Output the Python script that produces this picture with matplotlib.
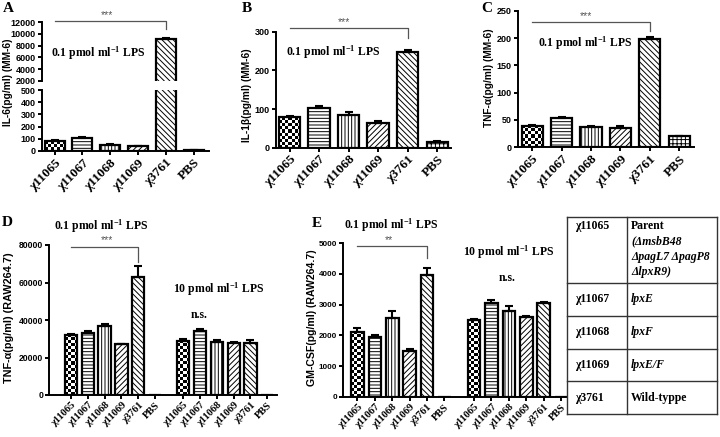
import numpy as np
import matplotlib
matplotlib.use('Agg')
import matplotlib.pyplot as plt

# ---- data ----
strains = ['χ11065', 'χ11067', 'χ11068', 'χ11069', 'χ3761', 'PBS']

il6 = [85, 104, 52, 37, 9200, 5]
il6_err = [4, 12, 3, 3, 150, 1]

il1b = [80, 103, 85, 63, 247, 16]
il1b_err = [3, 4, 7, 5, 5, 2]

tnf_mm6 = [39, 53, 38, 36, 199, 20]
tnf_mm6_err = [1.5, 3, 1.5, 2.5, 3, 1]

tnf_raw_low = [32000, 33300, 37000, 27000, 62700, 0]
tnf_raw_low_err = [600, 800, 700, 0, 6000, 0]
tnf_raw_high = [29000, 34000, 28500, 27500, 27800, 0]
tnf_raw_high_err = [1000, 1300, 700, 600, 1800, 0]

gmcsf_low = [2120, 1950, 2580, 1490, 3970, 0]
gmcsf_low_err = [110, 50, 220, 70, 210, 0]
gmcsf_high = [2500, 3060, 2800, 2590, 3070, 0]
gmcsf_high_err = [20, 90, 160, 40, 20, 0]

table_strains = ['χ11065', 'χ11067', 'χ11068', 'χ11069', 'χ3761']
table_genotypes = [['Parent', '(ΔmsbB48', 'ΔpagL7 ΔpagP8', 'ΔlpxR9)'],
                   ['lpxE'], ['lpxF'], ['lpxE/F'], ['Wild-typpe']]

hatches = ['checker', '-----', '|||||', '//////', '\\\\\\\\\\\\', '++++']

plt.rcParams['hatch.linewidth'] = 0.7
plt.rcParams['mathtext.default'] = 'regular'

SERIF = 'Liberation Serif'
SANS = 'Liberation Sans'
W, H = 720, 437
fig = plt.figure(figsize=(7.2, 4.37), dpi=100)


def axes_px(left, top, right, bottom):
    return fig.add_axes([left / W, 1 - bottom / H, (right - left) / W, (bottom - top) / H])


def style(ax, yticks, xlim, ylim, ytick_fs=6.5):
    ax.spines[['top', 'right']].set_visible(False)
    for s in ['left', 'bottom']:
        ax.spines[s].set_linewidth(1.4)
    ax.tick_params(width=1.4, length=3, direction='out', pad=1.2)
    ax.set_yticks(yticks, [str(t) for t in yticks], fontfamily=SANS,
                  fontweight='bold', fontsize=ytick_fs)
    ax.set_xlim(*xlim)
    ax.set_ylim(*ylim)


def draw_bars(ax, x, vals, errs, width=0.72):
    bars = ax.bar(x, vals, width, color='white', edgecolor='black',
                  linewidth=1.6, zorder=2)
    for b, h in zip(bars, hatches * 2):
        if h == 'checker':
            b.set_facecolor('none')
            b.set_zorder(3)
        else:
            b.set_hatch(h)
    x = np.asarray(x, float)
    vals = np.asarray(vals, float)
    errs = np.asarray(errs, float)
    m = vals > 0
    ax.errorbar(x[m], vals[m], yerr=[np.zeros(m.sum()), errs[m]], fmt='none',
                ecolor='black', elinewidth=1.5, capsize=3, capthick=1.5, zorder=4)
    return bars


def checker(ax, bars, xlim, ylim):
    # checkerboard fill for the first strain of each group
    for i, b in enumerate(bars):
        if hatches[i % 6] != 'checker' or b.get_height() <= 0:
            continue
        x0, y0, w, h = b.get_x(), b.get_y(), b.get_width(), b.get_height()
        (px0, py0), (px1, py1) = ax.transData.transform([(x0, y0), (x0 + w, y0 + h)])
        nx = max(1, int(round((px1 - px0) / 3)))
        ny = max(1, int(round((py1 - py0) / 3)))
        grid = np.add.outer(np.arange(ny), np.arange(nx)) % 2
        im = ax.imshow(grid, cmap='gray', extent=(x0, x0 + w, y0, y0 + h),
                       aspect='auto', interpolation='nearest', origin='lower', zorder=1.5)
        im.set_clip_path(b)
    ax.set_xlim(*xlim)
    ax.set_ylim(*ylim)


def xlabels(ax, x, labels, fs):
    ax.set_xticks(x, labels, rotation=45, ha='right', rotation_mode='anchor',
                  fontfamily=SERIF, fontweight='bold', fontsize=fs)


def bracket(ax, x0, x1, y, ydrop, stars, xs, ys):
    ax.plot([x0, x1, x1], [y, y, ydrop], color='#555555', lw=0.9, clip_on=False)
    ax.text(xs, ys, stars, ha='center', va='bottom', fontsize=7.5, color='#555555',
            fontfamily=SANS, clip_on=False)


def lps(ax, x, y, dose):
    ax.text(x, y, dose + ' pmol ml$^{-1}$ LPS', ha='center', va='center',
            fontsize=8.5, fontweight='bold', fontfamily=SERIF, clip_on=False)


def fig_text(px, py, s, **kw):
    fig.text(px / W, 1 - py / H, s, **kw)


x6 = np.arange(6)

# ---- A: IL-6 with broken axis ----
xl = (-0.47, 5.55)
axA_lo = axes_px(41.5, 90, 209, 151)
axA_hi = axes_px(41.5, 22, 209, 81)
style(axA_lo, [0, 100, 200, 300, 400, 500], xl, (0, 500))
style(axA_hi, [2000, 4000, 6000, 8000, 10000, 12000], xl, (2000, 12000))
bA = draw_bars(axA_lo, x6, il6, il6_err)
draw_bars(axA_hi, x6, il6, il6_err)
checker(axA_lo, bA, xl, (0, 500))
xlabels(axA_lo, x6, strains, 9.5)
axA_hi.spines['bottom'].set_visible(False)
axA_hi.set_xticks([])
bracket(axA_hi, 0, 4, 12220, 10820, '***', 1.9, 12350)
lps(axA_hi, 1.57, 6720, '0.1')

# ---- B: IL-1b ----
xl = (-0.47, 5.46)
axB = axes_px(275.7, 31.7, 450.7, 147.7)
style(axB, [0, 100, 200, 300], xl, (0, 300))
bB = draw_bars(axB, x6, il1b, il1b_err)
checker(axB, bB, xl, (0, 300))
xlabels(axB, x6, strains, 9.5)
bracket(axB, 0, 4, 308.8, 283, '***', 1.84, 311)
lps(axB, 1.48, 248, '0.1')

# ---- C: TNF-a MM-6 ----
xl = (-0.49, 5.51)
axC = axes_px(517.7, 10.7, 694.3, 147.3)
style(axC, [0, 50, 100, 150, 200, 250], xl, (0, 250))
bC = draw_bars(axC, x6, tnf_mm6, tnf_mm6_err)
checker(axC, bC, xl, (0, 250))
xlabels(axC, x6, strains, 9.5)
bracket(axC, 0, 4, 230, 213, '***', 1.83, 231.5)
lps(axC, 1.8, 190, '0.1')

# ---- D: TNF-a RAW264.7 ----
xD = np.concatenate([x6, x6 + 6.63])
xl = (-1.27, 12.18)
axD = axes_px(49.3, 245, 276.7, 395)
style(axD, [0, 20000, 40000, 60000, 80000], xl, (0, 80000), ytick_fs=6.2)
bD = draw_bars(axD, xD, tnf_raw_low + tnf_raw_high, tnf_raw_low_err + tnf_raw_high_err)
checker(axD, bD, xl, (0, 80000))
xlabels(axD, xD, strains * 2, 7.5)
bracket(axD, 0, 4, 79100, 71100, '***', 2.14, 79700)
lps(axD, 1.79, 89800, '0.1')
lps(axD, 8.77, 56500, '10')
axD.text(7.59, 42700, 'n.s.', ha='center', va='center', fontsize=8.5,
         fontweight='bold', fontfamily=SERIF)

# ---- E: GM-CSF RAW264.7 ----
xE = np.concatenate([x6, x6 + 6.7])
xl = (-0.85, 12.04)
axE = axes_px(342.7, 243.3, 567, 396.7)
style(axE, [0, 1000, 2000, 3000, 4000, 5000], xl, (0, 5000), ytick_fs=5.8)
bE = draw_bars(axE, xE, gmcsf_low + gmcsf_high, gmcsf_low_err + gmcsf_high_err)
checker(axE, bE, xl, (0, 5000))
xlabels(axE, xE, strains * 2, 7.5)
bracket(axE, 0, 4, 4920, 4520, '**', 1.81, 4955)
lps(axE, 1.91, 5580, '0.1')
lps(axE, 8.67, 4710, '10')
axE.text(8.57, 3870, 'n.s.', ha='center', va='center', fontsize=8.5,
         fontweight='bold', fontfamily=SERIF)

# ---- y labels and panel letters ----
ylab = dict(rotation=90, ha='center', va='center', fontfamily=SANS, fontweight='bold')
fig_text(8, 82, 'IL-6(pg/ml) (MM-6)', fontsize=7.3, **ylab)
fig_text(247, 95, 'IL-1β(pg/ml) (MM-6)', fontsize=7.3, **ylab)
fig_text(488.5, 78, 'TNF-α(pg/ml) (MM-6)', fontsize=7.3, **ylab)
fig_text(9, 318, 'TNF-α(pg/ml) (RAW264.7)', fontsize=7.8, **ylab)
fig_text(312, 318, 'GM-CSF(pg/ml) (RAW264.7)', fontsize=7.6, **ylab)

letter = dict(ha='left', va='top', fontsize=11, fontweight='bold', fontfamily=SERIF)
for s, px, py in [('A', 3, 2), ('B', 242, 2), ('C', 481, 2), ('D', 2, 216), ('E', 312, 217)]:
    fig_text(px, py, s, **letter)

# ---- strain table ----
axT = axes_px(567, 217, 717, 414)
axT.set_xlim(0, 150)
axT.set_ylim(197, 0)
axT.axis('off')
row_lines = [0, 66, 98.75, 131.5, 164.25, 197]
lc = dict(color='#333333', lw=1.0, clip_on=False)
for y in row_lines:
    axT.plot([0, 150], [y, y], **lc)
for x in [0, 59.7, 150]:
    axT.plot([x, x], [0, 197], **lc)
for i, (s, geno) in enumerate(zip(table_strains, table_genotypes)):
    if i == 0:
        ys = [9, 24.5, 40, 55.5]
    else:
        ys = [(row_lines[i] + row_lines[i + 1]) / 2]
    axT.text(8, ys[0], s, ha='left', va='center', fontsize=8.5,
             fontweight='bold', fontfamily=SERIF)
    for j, (g, y) in enumerate(zip(geno, ys)):
        italic = not (g in ('Parent', 'Wild-typpe'))
        axT.text(64, y, g, ha='left', va='center', fontsize=8.5, fontweight='bold',
                 fontfamily=SERIF, fontstyle='italic' if italic else 'normal')

fig.savefig('out.png', dpi=100)
